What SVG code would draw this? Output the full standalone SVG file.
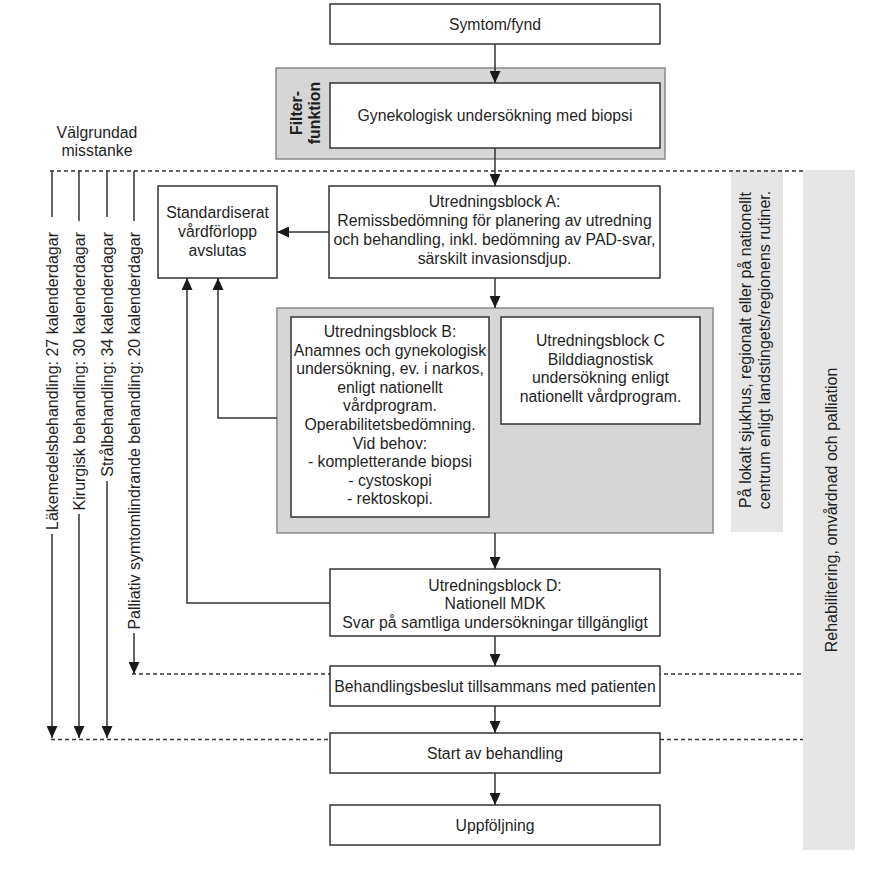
<svg xmlns="http://www.w3.org/2000/svg" width="882" height="890" viewBox="0 0 882 890">
<defs>
<marker id="ah" viewBox="0 0 12 11" refX="12" refY="5.5" markerWidth="12" markerHeight="11" markerUnits="userSpaceOnUse" orient="auto"><path d="M0,0 L12,5.5 L0,11 z" fill="#1a1a1a"/></marker>
<style>
text{font-family:"Liberation Sans",Arial,sans-serif;font-size:15.8px;fill:#1f1f1f}
.c{text-anchor:middle}
.v{font-size:16px}
.b{font-weight:bold}
.box{fill:#fff;stroke:#333;stroke-width:1.5}
.grp{fill:#d6d6d6;stroke:#8a8a8a;stroke-width:1.5}
.band{fill:#e6e6e6}
.ln{fill:none;stroke:#333;stroke-width:1.5}
.ar{fill:none;stroke:#333;stroke-width:1.5;marker-end:url(#ah)}
.dash{fill:none;stroke:#333;stroke-width:1.5;stroke-dasharray:4 3}
</style>
</defs>
<rect width="882" height="890" fill="#fff"/>

<g id="band-local">
<rect class="band" x="731" y="170" width="52" height="362"/>
<text class="c v" transform="translate(751,350) rotate(-90)">På lokalt sjukhus, regionalt eller på nationellt</text>
<text class="c v" transform="translate(770,350) rotate(-90)">centrum enligt landstingets/regionens rutiner.</text>
</g>
<g id="band-rehab">
<rect class="band" x="803" y="170" width="52" height="680"/>
<text class="c v" transform="translate(837,510) rotate(-90)">Rehabilitering, omvårdnad och palliation</text>
</g>

<g id="symtom">
<rect class="box" x="330" y="4" width="330" height="40"/>
<text class="c" x="495" y="29.5">Symtom/fynd</text>
</g>

<g id="filter">
<rect class="grp" x="276" y="68" width="389" height="91"/>
<text class="c b" transform="translate(302,113) rotate(-90)">Filter-</text>
<text class="c b" transform="translate(320,113) rotate(-90)">funktion</text>
<rect class="box" x="330" y="83" width="330" height="65"/>
<text class="c" x="495" y="121">Gynekologisk undersökning med biopsi</text>
</g>

<g id="valgrundad">
<text class="c" x="97" y="138">Välgrundad</text>
<text class="c" x="97" y="156">misstanke</text>
</g>

<g id="dashed-lines">
<path class="dash" d="M50,171 H803"/>
<path class="dash" d="M132,674 H803"/>
<path class="dash" d="M51,739.5 H803"/>
</g>

<g id="std">
<rect class="box" x="158" y="186" width="119" height="92"/>
<text class="c" x="217.5" y="218">Standardiserat</text>
<text class="c" x="217.5" y="237">vårdförlopp</text>
<text class="c" x="217.5" y="256">avslutas</text>
</g>

<g id="blockA">
<rect class="box" x="329" y="186" width="331" height="92"/>
<text class="c" x="494.5" y="207">Utredningsblock A:</text>
<text class="c" x="494.5" y="226">Remissbedömning för planering av utredning</text>
<text class="c" x="494.5" y="245">och behandling, inkl. bedömning av PAD-svar,</text>
<text class="c" x="494.5" y="264">särskilt invasionsdjup.</text>
</g>

<g id="blockBC">
<rect class="grp" x="277" y="308" width="436" height="225"/>
</g>
<g id="blockB">
<rect class="box" x="291" y="317" width="198" height="200"/>
<text class="c" x="390" y="337">Utredningsblock B:</text>
<text class="c" x="390" y="355.6">Anamnes och gynekologisk</text>
<text class="c" x="390" y="374.2">undersökning, ev. i narkos,</text>
<text class="c" x="390" y="392.8">enligt nationellt</text>
<text class="c" x="390" y="411.4">vårdprogram.</text>
<text class="c" x="390" y="430">Operabilitetsbedömning.</text>
<text class="c" x="390" y="448.6">Vid behov:</text>
<text class="c" x="390" y="467.2">- kompletterande biopsi</text>
<text class="c" x="390" y="485.8">- cystoskopi</text>
<text class="c" x="390" y="504.4">- rektoskopi.</text>
</g>
<g id="blockC">
<rect class="box" x="501" y="317" width="199" height="107"/>
<text class="c" x="600.5" y="346">Utredningsblock C</text>
<text class="c" x="600.5" y="364.5">Bilddiagnostisk</text>
<text class="c" x="600.5" y="383">undersökning enligt</text>
<text class="c" x="600.5" y="401.5">nationellt vårdprogram.</text>
</g>

<g id="blockD">
<rect class="box" x="330" y="569" width="330" height="67"/>
<text class="c" x="495" y="590.5">Utredningsblock D:</text>
<text class="c" x="495" y="609">Nationell MDK</text>
<text class="c" x="495" y="627.5">Svar på samtliga undersökningar tillgängligt</text>
</g>

<g id="beslut">
<rect class="box" x="330" y="666" width="330" height="40"/>
<text class="c" x="495" y="691.5">Behandlingsbeslut tillsammans med patienten</text>
</g>

<g id="start">
<rect class="box" x="330" y="733" width="330" height="40"/>
<text class="c" x="495" y="758.5">Start av behandling</text>
</g>

<g id="uppfoljning">
<rect class="box" x="330" y="805" width="330" height="40"/>
<text class="c" x="495" y="830.5">Uppföljning</text>
</g>

<g id="timelines">
<text class="v" text-anchor="end" transform="translate(57.5,232) rotate(-90)">Läkemedelsbehandling: 27 kalenderdagar</text>
<text class="v" text-anchor="end" transform="translate(84.5,232) rotate(-90)">Kirurgisk behandling: 30 kalenderdagar</text>
<text class="v" text-anchor="end" transform="translate(112.5,232) rotate(-90)">Strålbehandling: 34 kalenderdagar</text>
<text class="v" text-anchor="end" transform="translate(139.5,232) rotate(-90)">Palliativ symtomlindrande behandling: 20 kalenderdagar</text>
</g>

<g id="connectors">
<path class="ln" d="M52,171 V217"/>
<path class="ln" d="M79,171 V221"/>
<path class="ln" d="M107,171 V217"/>
<path class="ln" d="M134,171 V221"/>
<path class="ar" d="M52,534 V738"/>
<path class="ar" d="M79,514 V738"/>
<path class="ar" d="M107,481 V738"/>
<path class="ar" d="M134,633 V674"/>
<path class="ar" d="M495,44 V83"/>
<path class="ar" d="M495,148 V186"/>
<path class="ar" d="M329,232 H277"/>
<path class="ar" d="M495,278 V308"/>
<path class="ar" d="M277,418 H218 V278"/>
<path class="ar" d="M495,533 V569"/>
<path class="ar" d="M330,603 H187 V278"/>
<path class="ar" d="M495,636 V666"/>
<path class="ar" d="M495,706 V733"/>
<path class="ar" d="M495,773 V805"/>
</g>
</svg>
